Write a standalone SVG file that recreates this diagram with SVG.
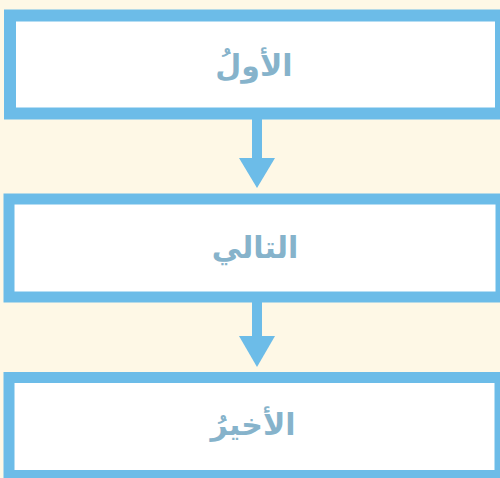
<svg xmlns="http://www.w3.org/2000/svg" width="500" height="478" viewBox="0 0 500 478">
<style>
.box{fill:#ffffff;stroke:#6cbce8;}
.lbl{font-family:"DejaVu Sans",sans-serif;font-size:30px;font-weight:bold;fill:#86b3cb;text-anchor:middle;}
.arr{fill:#6cbce8;}
</style>
<rect x="0" y="0" width="500" height="478" fill="#fef8e6"/>
<g id="connectors">
<rect class="arr" x="252" y="119" width="10" height="42"/>
<polygon class="arr" points="239,158 275,158 257,188"/>
<rect class="arr" x="252" y="302" width="10" height="37"/>
<polygon class="arr" points="239,336 275,336 257,367"/>
</g>
<g id="node1">
<rect class="box" x="10" y="15.5" width="491" height="98" stroke-width="12"/>
<text class="lbl" x="254" y="76" direction="rtl">الأولُ</text>
</g>
<g id="node2">
<rect class="box" x="9" y="199" width="492" height="98" stroke-width="11"/>
<text class="lbl" x="255" y="258" direction="rtl">التالي</text>
</g>
<g id="node3">
<rect class="box" x="9" y="377.5" width="491" height="98" stroke-width="11"/>
<text class="lbl" x="253" y="435" direction="rtl">الأخيرُ</text>
</g>
</svg>
